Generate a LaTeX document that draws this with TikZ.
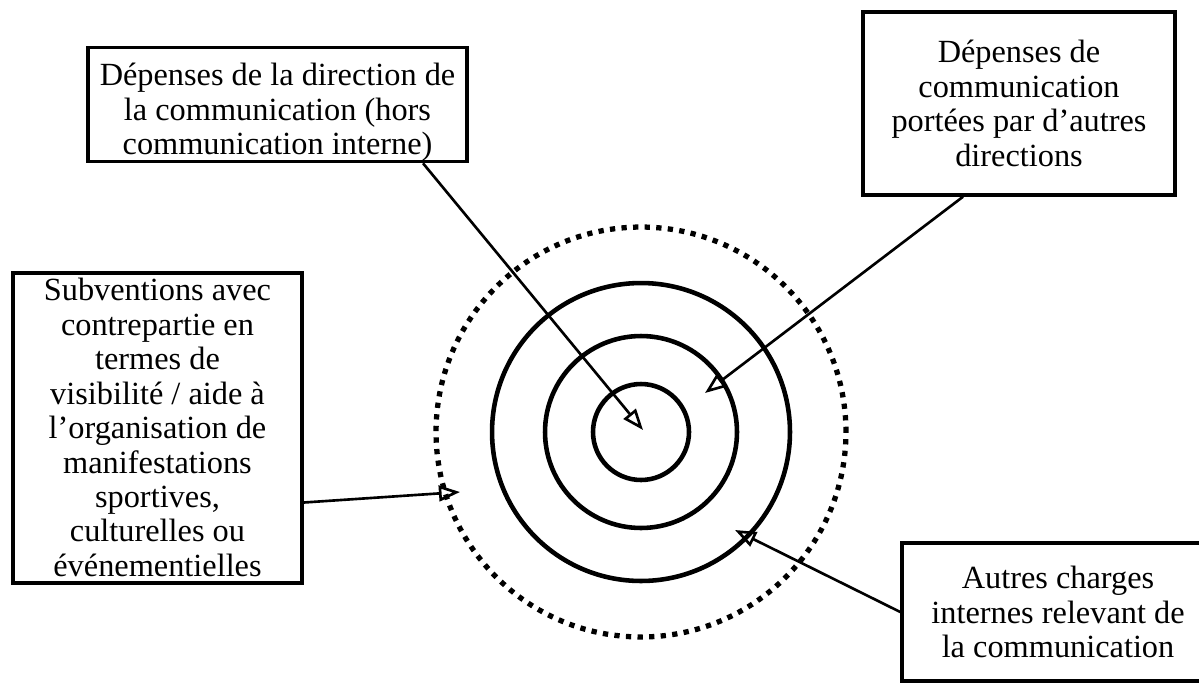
\documentclass[tikz,border=0pt]{standalone}
\usepackage{fontspec}
\setmainfont{Liberation Serif}
\usetikzlibrary{positioning,arrows.meta}
\tikzset{
    >={Triangle[open,length=12pt,width=9pt]},
    box/.style = {
        draw,
        shape=rectangle,
        line width=2pt,
        align=center,
        inner sep=0pt,
        font=\fontsize{18.4}{19.6}\selectfont
    },
    ring/.style = {
        draw,
        line width=2.6pt
    },
    dotring/.style = {
        draw,
        line width=3pt,
        dash pattern=on 3pt off 3.6pt
    },
    pointer/.style = {
        draw,
        ->,
        line width=1.5pt
    },
}

\begin{document}
\begin{tikzpicture}[x=0.02cm, y=-0.02cm]
        \useasboundingbox (0,0) rectangle (1199,683);
        \coordinate (ctr) at (641,432);

        \path[dotring] (ctr) circle[radius=4.1cm];
        \path[ring] (ctr) circle[radius=2.98cm];
        \path[ring] (ctr) circle[radius=1.92cm];
        \path[ring] (ctr) circle[radius=0.96cm];

        \node[box, minimum width=7.58cm, minimum height=2.1cm, text height=61pt] (dircom) at (277.5,104.5) {Dépenses de la direction de\\ la communication (hors\\ communication interne)};
        \node[box, minimum width=6.24cm, minimum height=3.66cm] (autresdir) at (1019,103.5) {Dépenses de\\ communication\\ portées par d’autres\\ directions};
        \node[box, minimum width=5.78cm, minimum height=6.2cm, text height=169pt] (subv) at (157.5,428) {Subventions avec\\ contrepartie en\\ termes de\\ visibilité / aide à\\ l’organisation de\\ manifestations\\ sportives,\\ culturelles ou\\ événementielles};
        \node[box, minimum width=6.24cm, minimum height=2.76cm] (internes) at (1058,612) {Autres charges\\ internes relevant de\\ la communication};

        \coordinate (tipdir) at (643,430);
        \coordinate (tipautres) at (705,393);
        \coordinate (tipsubv) at (460,492);
        \coordinate (tipint) at (735,530);

        \path[pointer] (dircom.-22.7) -- (tipdir);
        \path[pointer] (autresdir.-121.9) -- (tipautres);
        \path[pointer] (subv.-27.1) -- (tipsubv);
        \path[pointer] (internes.west) -- (tipint);
\end{tikzpicture}
\end{document}
